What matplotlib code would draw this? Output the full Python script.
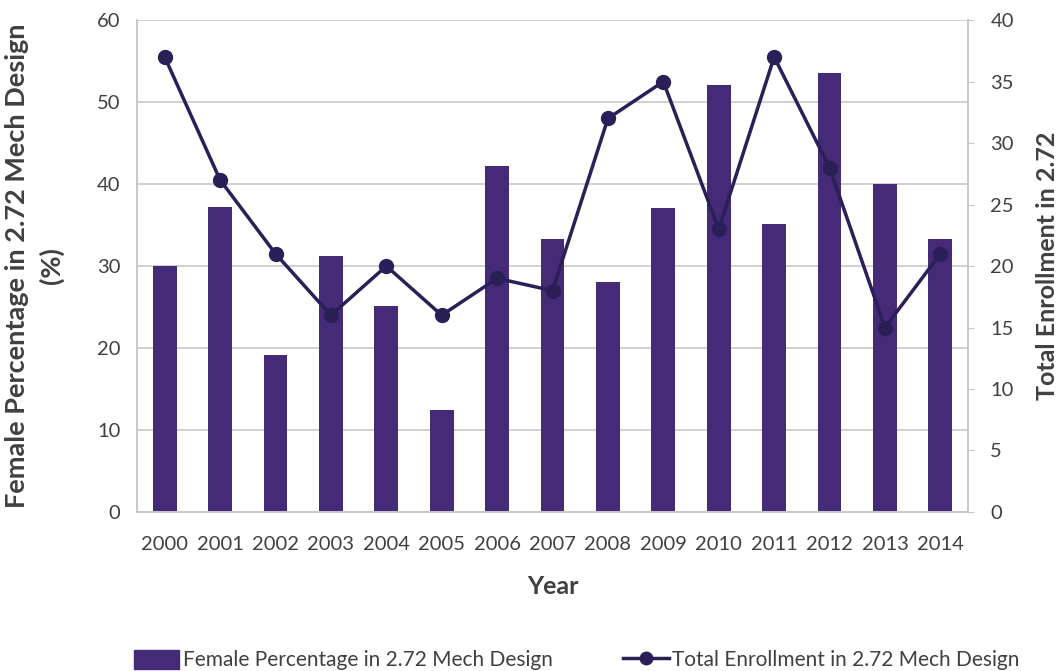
import numpy as np
import matplotlib.pyplot as plt
from matplotlib.lines import Line2D
from matplotlib.patches import Patch

plt.rcParams['font.family'] = ['Lato', 'DejaVu Sans']

years = ['2000', '2001', '2002', '2003', '2004', '2005', '2006', '2007',
         '2008', '2009', '2010', '2011', '2012', '2013', '2014']
female_pct = [30.0, 37.2, 19.1, 31.2, 25.1, 12.4, 42.2, 33.3,
              28.0, 37.1, 52.1, 35.1, 53.5, 40.0, 33.3]
enrollment = [37, 27, 21, 16, 20, 16, 19, 18, 32, 35, 23, 37, 28, 15, 21]

bar_color = '#452a78'
line_color = '#2b1f57'
grid_color = '#c8c8c8'
text_color = '#404040'

x = np.arange(len(years))

fig = plt.figure(figsize=(10.58, 6.71), dpi=100)
ax = fig.add_axes([0.1295, 0.237, 0.7855, 0.733])
ax2 = ax.twinx()

ax.bar(x, female_pct, width=0.43, color=bar_color, zorder=2)
ax.set_ylim(0, 60)
ax.set_yticks(np.arange(0, 61, 10))
ax.set_xlim(-0.5, len(years) - 0.5)
ax.set_xticks(x)
ax.set_xticklabels(years)
ax.yaxis.grid(True, color=grid_color, linewidth=1.2, zorder=0)
ax.set_axisbelow(True)
ax.tick_params(axis='both', length=0, labelsize=14.5, labelcolor=text_color, pad=12)
ax.tick_params(axis='x', pad=17)

ax2.plot(x, enrollment, color=line_color, linewidth=2.5, marker='o',
         markersize=10, zorder=3)
ax2.set_ylim(0, 40)
ax2.set_yticks(np.arange(0, 41, 5))
ax2.tick_params(axis='y', length=4, color=grid_color, labelsize=14.5,
                labelcolor=text_color, pad=12)

for a in (ax, ax2):
    a.spines['top'].set_visible(False)
    for side in ('left', 'right', 'bottom'):
        a.spines[side].set_color(grid_color)
        a.spines[side].set_linewidth(1.2)

ax.set_xlabel('Year', fontsize=18, fontweight='bold', color=text_color, labelpad=16)
ax.set_ylabel('Female Percentage in 2.72 Mech Design\n(%)', fontsize=19.5,
              fontweight='bold', color=text_color, labelpad=24, linespacing=1.45)
ax2.set_ylabel('Total Enrollment in 2.72', fontsize=18, fontweight='bold',
               color=text_color, labelpad=16)

handles = [Patch(color=bar_color),
           Line2D([], [], color=line_color, linewidth=2.5, marker='o', markersize=9)]
labels = ['Female Percentage in 2.72 Mech Design', 'Total Enrollment in 2.72 Mech Design']
fig.legend(handles, labels, loc='center', bbox_to_anchor=(0.545, 0.016), ncol=2,
           frameon=False, fontsize=15, labelcolor=text_color, columnspacing=3.4,
           handlelength=2.2, handleheight=1.0, handletextpad=0.15)

fig.savefig('out.png', dpi=100)
